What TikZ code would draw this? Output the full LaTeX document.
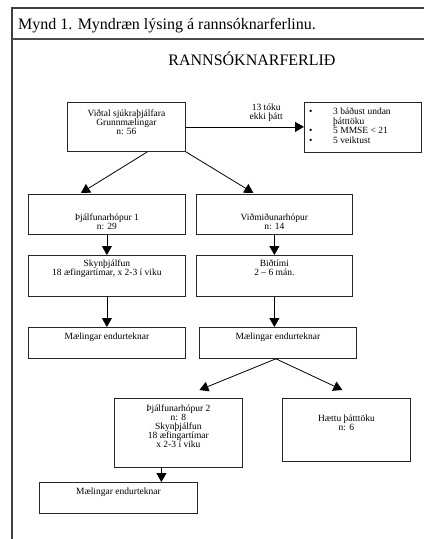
\documentclass[tikz,border=0pt]{standalone}
\usepackage{fontspec}
\setmainfont{Liberation Serif}
\usetikzlibrary{calc,positioning,arrows.meta}

\tikzset{
  box/.style={draw=black!85, line width=0.8pt, anchor=north west, inner sep=0pt},
  txt/.style={inner sep=0pt, align=center, anchor=north,
    font=\fontsize{9.5}{9}\selectfont},
  arr/.style={line width=0.8pt, -{Triangle[length=9pt,width=10pt]}},
}

\begin{document}
\begin{tikzpicture}[x=1pt,y=-1pt]
\useasboundingbox (0,0) rectangle (424,539);
% frame of the figure
\draw[line width=1.2pt, black!75] (12,539) -- (12,8) -- (424,8);
\draw[line width=1.6pt, black!70] (12,39) -- (424,39);
\node[anchor=base west, inner sep=0pt, font=\fontsize{16}{18}\selectfont] (caption) at (18,29)
  {Mynd 1. Myndræn lýsing á rannsóknarferlinu.};
\node[anchor=base, inner sep=0pt, font=\fontsize{16}{18}\selectfont] (heading) at (252,65)
  {RANNSÓKNARFERLIÐ};

% boxes
\node[box, minimum width=118pt, minimum height=49pt] (intake) at (67,102) {};
\node[box, minimum width=117pt, minimum height=50pt] (excl) at (304,102) {};
\node[box, minimum width=157pt, minimum height=40pt] (grpone) at (28,194) {};
\node[box, minimum width=156pt, minimum height=40pt] (ctrl) at (196,194) {};
\node[box, minimum width=157pt, minimum height=41pt] (trainone) at (28,255) {};
\node[box, minimum width=156pt, minimum height=41pt] (wait) at (196,255) {};
\node[box, minimum width=157pt, minimum height=31pt] (remeasA) at (28,327) {};
\node[box, minimum width=157pt, minimum height=31pt] (remeasB) at (199,327) {};
\node[box, minimum width=128pt, minimum height=69pt] (grptwo) at (114,398) {};
\node[box, minimum width=128pt, minimum height=63pt] (quit) at (282,398) {};
\node[box, minimum width=158pt, minimum height=31pt] (remeasC) at (39,482) {};

% texts
\node[txt] (intaketxt) at ($(intake.north)+(0,8)$)
  {Viðtal sjúkraþjálfara\\Grunnmælingar\\n: 56};
\node[txt, align=left, anchor=north west, font=\fontsize{9.5}{9.5}\selectfont] (excltxt)
  at ($(excl.north west)+(5,6)$)
  {\makebox[24pt][l]{\textbullet}3 báðust undan\\
   \makebox[24pt][l]{}þátttöku\\
   \makebox[24pt][l]{\textbullet}5 MMSE < 21\\
   \makebox[24pt][l]{\textbullet}5 veiktust};
\node[txt] (grponetxt) at ($(grpone.north)+(0,20)$) {Þjálfunarhópur 1\\n: 29};
\node[txt] (ctrltxt) at ($(ctrl.north)+(0,20)$) {Viðmiðunarhópur\\n: 14};
\node[txt] (trainonetxt) at ($(trainone.north)+(0,5)$)
  {Skynþjálfun\\18 æfingartímar, x 2-3 í viku};
\node[txt] (waittxt) at ($(wait.north)+(0,5)$) {Biðtími\\2 – 6 mán.};
\node[txt] (remeasAtxt) at ($(remeasA.north)+(0,6)$) {Mælingar endurteknar};
\node[txt] (remeasBtxt) at ($(remeasB.north)+(0,6)$) {Mælingar endurteknar};
\node[txt] (grptwotxt) at ($(grptwo.north)+(0,7)$)
  {Þjálfunarhópur 2\\n: 8\\Skynþjálfun\\18 æfingartímar\\x 2-3 í viku};
\node[txt] (quittxt) at ($(quit.north)+(0,17)$) {Hættu þátttöku\\n: 6};
\node[txt] (remeasCtxt) at ($(remeasC.north)+(0,6)$) {Mælingar endurteknar};

% connectors
\draw[arr] (intake.east) -- (intake.east -| excl.west);
\node[txt, anchor=south] (droplbl) at ($(intake.east)!0.68!(excl.west)+(0,-6)$)
  {13 tóku\\ekki þátt};
\draw[arr] ([xshift=21pt]intake.south) -- ([shift={(-26,-1)}]grpone.north);
\draw[arr] (intake.south east) -- ([shift={(-21,-1)}]ctrl.north);
\draw[arr] (grpone.south) -- (trainone.north);
\draw[arr] (ctrl.south) -- (wait.north);
\draw[arr] (trainone.south) -- (remeasA.north);
\draw[arr] (wait.south) -- (wait.south |- remeasB.north);
\draw[arr] ([xshift=-2pt]remeasB.south) -- ([shift={(21,-8)}]grptwo.north);
\draw[arr] ([xshift=-2pt]remeasB.south) -- ([shift={(-4,-8)}]quit.north);
\draw[arr] ([xshift=-17pt]grptwo.south) -- ([xshift=-17pt]grptwo.south |- remeasC.north);
\end{tikzpicture}
\end{document}
